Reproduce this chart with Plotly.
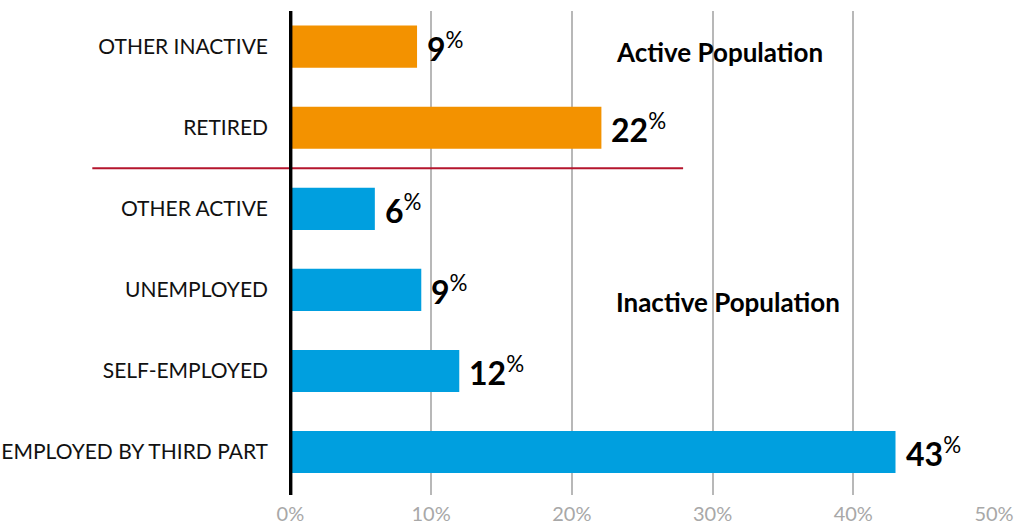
import plotly.graph_objects as go

categories = ["EMPLOYED BY THIRD PART", "SELF-EMPLOYED", "UNEMPLOYED",
              "OTHER ACTIVE", "RETIRED", "OTHER INACTIVE"]
values = [43.0, 12.0, 9.3, 6.0, 22.1, 9.0]
labels = ["43", "12", "9", "6", "22", "9"]
colors = ["#009fdf", "#009fdf", "#009fdf", "#009fdf", "#f39200", "#f39200"]
tick_vals = [0, 10, 20, 30, 40, 50]
tick_text = ["0%", "10%", "20%", "30%", "40%", "50%"]

FONT = "Lato"

fig = go.Figure()
fig.add_trace(go.Bar(
    y=categories, x=values, orientation="h",
    marker=dict(color=colors, line=dict(width=0)),
    width=0.52, hoverinfo="skip", showlegend=False,
))

for cat, v, lab in zip(categories, values, labels):
    fig.add_annotation(
        x=v, y=cat, xref="x", yref="y", xanchor="left", yanchor="middle",
        xshift=8, showarrow=False,
        text=f"<b>{lab}</b><sup style='font-size:18px'>%</sup>",
        font=dict(family=FONT, size=32, color="#000000"),
    )

fig.add_annotation(x=30.5, y=4.94, xref="x", yref="y", showarrow=False,
                   text="<b>Active Population</b>",
                   font=dict(family=FONT, size=26, color="#000000"))
fig.add_annotation(x=31.1, y=1.85, xref="x", yref="y", showarrow=False,
                   text="<b>Inactive Population</b>",
                   font=dict(family=FONT, size=26, color="#000000"))

# divider between active and inactive groups
fig.add_shape(type="line", xref="paper", yref="y", x0=-0.279, x1=0.559,
              y0=3.5, y1=3.5, line=dict(color="#b5152d", width=2), layer="above")
# black baseline axis
fig.add_shape(type="line", xref="x", yref="paper", x0=0, x1=0, y0=0, y1=1,
              line=dict(color="#000000", width=4), layer="above")

fig.update_layout(
    width=1020, height=529,
    margin=dict(l=289, r=26, t=11, b=34),
    paper_bgcolor="white", plot_bgcolor="white",
    bargap=0.48,
    xaxis=dict(range=[-0.1, 50], tickvals=tick_vals, ticktext=tick_text,
               showgrid=True, gridcolor="#b8b8b8", gridwidth=1.5,
               zeroline=False, showline=False, ticks="", automargin=False,
               tickfont=dict(family=FONT, size=20, color="#a8a8a8"),
               ticklabelstandoff=5, fixedrange=True),
    yaxis=dict(range=[-0.53, 5.44], categoryorder="array", categoryarray=categories,
               showgrid=False, zeroline=False, showline=False, ticks="", automargin=False,
               tickfont=dict(family=FONT, size=21, color="#111111"),
               ticklabelstandoff=20, fixedrange=True),
)

fig.write_html("out.html", config={"displayModeBar": False},
               post_script="document.body.style.margin='0';document.body.style.overflow='hidden';")
